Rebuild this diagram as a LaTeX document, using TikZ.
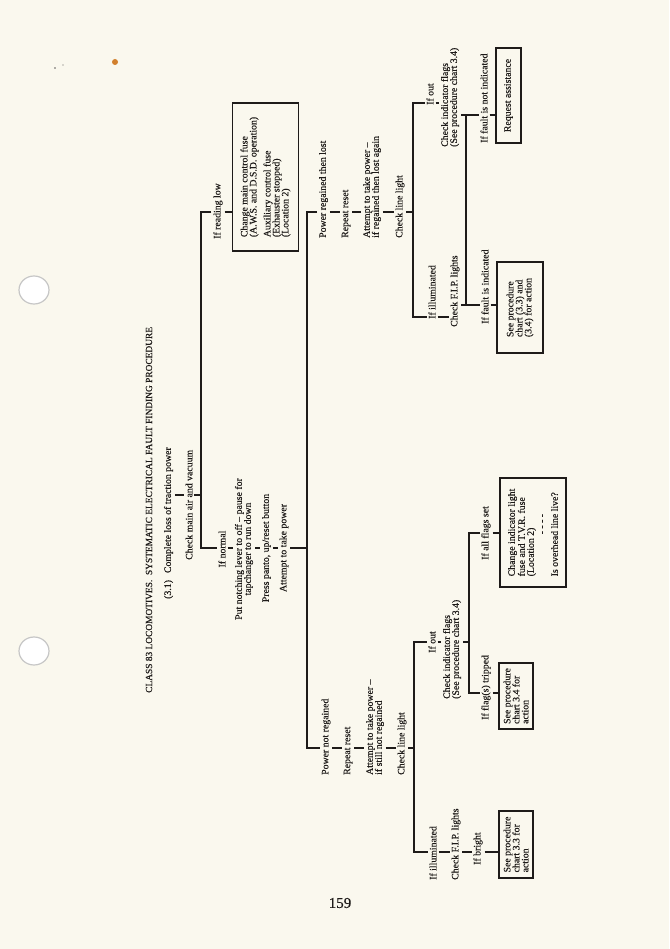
\documentclass[tikz,border=0pt]{standalone}
\usepackage{fontspec}
\setmainfont{Liberation Serif}[FakeBold=0.4]
\definecolor{paper}{RGB}{250,248,238}
\definecolor{ink}{RGB}{30,27,25}
\begin{document}
\begin{tikzpicture}[x=1pt,y=-1pt,
  txt/.style={rotate=90, font=\fontsize{9.8}{9}\selectfont, inner xsep=0pt, inner ysep=1.8pt, align=left, text=ink},
  ctr/.style={txt, align=center},
  bx/.style={txt, draw=ink, line width=1.4pt, inner sep=0pt},
  ln/.style={draw=ink, line width=1.4pt},
  tk/.style={draw=ink, line width=1.2pt}]
\useasboundingbox (0,0) rectangle (669,949);
\fill[paper] (0,0) rectangle (669,949);
% punch holes and marks
\fill[white] (34,290) ellipse (15pt and 14pt);
\draw[gray!45, line width=1.2pt] (34,290) ellipse (15pt and 14pt);
\fill[white] (34,651) ellipse (15pt and 14pt);
\draw[gray!45, line width=1.2pt] (34,651) ellipse (15pt and 14pt);
\fill[brown!70!orange] (115,62) circle (3pt);
\fill[ink!70] (55,68) circle (0.9pt);
\fill[ink!70] (63,65) circle (0.7pt);

% ---------- nodes ----------
\node[txt, anchor=west, font=\fontsize{9.4}{9}\selectfont] (title) at (149,693) {CLASS 83 LOCOMOTIVES.\ \ SYSTEMATIC ELECTRICAL FAULT FINDING PROCEDURE};
\node[txt, anchor=west] (n31) at (168.5,599) {(3.1)\hspace{7pt}Complete loss of traction power};
\node[txt, anchor=west] (air) at (189,560) {Check main air and vacuum};
\node[txt, anchor=west] (rl) at (218,239) {If reading low};
\node[bx, minimum width=148pt, minimum height=66pt] (box1) at (265.5,177)
  {Change main control fuse\\(A.W.S. and D.S.D. operation)\\[5pt]Auxiliary control fuse\\(Exhauster stopped)\\(Location 2)};
\node[ctr] (nrm) at (222,549) {If normal};
\node[ctr] (notch) at (244,549) {Put notching lever to off -- pause for\\tapchanger to run down};
\node[ctr] (press) at (266.5,548) {Press panto, up/reset button};
\node[ctr] (att1) at (284,548) {Attempt to take power};

\node[txt, anchor=west] (prl) at (323.5,238) {Power regained then lost};
\node[txt, anchor=west] (rr1) at (346,238) {Repeat reset};
\node[txt, anchor=west] (atp1) at (372,238) {Attempt to take power --\\if regained then lost again};
\node[txt, anchor=west] (cll1) at (400,238) {Check line light};
\node[txt, anchor=west] (out1) at (430,105) {If out};
\node[txt, anchor=west] (cif1) at (450,147) {Check indicator flags\\(See procedure chart 3.4)};
\node[txt, anchor=west] (fni) at (484,143) {If fault is not indicated};
\node[bx, minimum width=95pt, minimum height=25pt] (req) at (508.5,95.5) {Request assistance};
\node[txt, anchor=west] (ill1) at (432,319) {If illuminated};
\node[txt, anchor=west] (fip1) at (455,327) {Check F.I.P. lights};
\node[txt, anchor=west] (fi) at (485,324) {If fault is indicated};
\node[bx, minimum width=91pt, minimum height=46pt] (box33) at (520,307.5) {See procedure\\chart (3.3) and\\(3.4) for action};

\node[txt, anchor=west] (pnr) at (326,775) {Power not regained};
\node[txt, anchor=west] (rr2) at (348,775) {Repeat reset};
\node[txt, anchor=west] (atp2) at (375,775) {Attempt to take power --\\if still not regained};
\node[txt, anchor=west] (cll2) at (402,775) {Check line light};
\node[ctr] (out2) at (432,642) {If out};
\node[txt, anchor=west] (cif2) at (452,699) {Check indicator flags\\(See procedure chart 3.4)};
\node[txt, anchor=west] (afs) at (486,560) {If all flags set};
\node[bx, minimum width=109pt, minimum height=66pt] (boxci) at (533,532.5)
  {Change indicator light\\fuse and T.V.R. fuse\\(Location 2)\\[2pt]\hspace*{42pt}- - - -\\[4pt]Is overhead line live?};
\node[txt, anchor=west] (fst) at (486,720) {If flag(s) tripped};
\node[bx, minimum width=66pt, minimum height=34pt] (box34) at (516,696) {See procedure\\chart 3.4 for\\action};
\node[txt, anchor=west] (ill2) at (433,880) {If illuminated};
\node[txt, anchor=west] (fip2) at (456,880) {Check F.I.P. lights};
\node[txt, anchor=west] (brt) at (478,865) {If bright};
\node[bx, minimum width=67pt, minimum height=34pt] (box33b) at (516,844.5) {See procedure\\chart 3.3 for\\action};

\node[font=\fontsize{15}{15}\selectfont, text=ink] (pg) at (340,903) {159};

% ---------- coordinates ----------
\coordinate (j1) at (201,495);
\coordinate (L1t) at (201,212);
\coordinate (L1b) at (201,548);
\coordinate (L2t) at (307,212);
\coordinate (L2m) at (307,548);
\coordinate (L2b) at (307,748);
\coordinate (L3t) at (413,103);
\coordinate (L3m) at (413,212);
\coordinate (L3b) at (413,317);
\coordinate (L4t) at (466,115);
\coordinate (L4b) at (466,305);
\coordinate (L5t) at (414,642);
\coordinate (L5m) at (414,748);
\coordinate (L5b) at (414,852);
\coordinate (L6t) at (469,533);
\coordinate (L6m) at (469,642);
\coordinate (L6b) at (469,693);

% ---------- connectors ----------
\draw[tk] (n31.south |- j1) -- (air.north |- j1);
\draw[ln] (air.south |- j1) -- (j1);
\draw[ln] (rl.north |- L1t) -- (L1t) -- (L1b) -- (nrm.north |- L1b);
\draw[ln] (rl.south |- L1t) -- (box1.north |- L1t);
\draw[tk] (nrm.south |- L1b) -- (notch.north |- L1b);
\draw[tk] (notch.south |- L1b) -- (press.north |- L1b);
\draw[tk] (press.south |- L1b) -- (att1.north |- L1b);
\draw[ln] (att1.south |- L2m) -- (L2m);

\draw[ln] (prl.north |- L2t) -- (L2t) -- (L2b) -- (pnr.north |- L2b);
\draw[tk] (prl.south |- L2t) -- (rr1.north |- L2t);
\draw[tk] (rr1.south |- L2t) -- (atp1.north |- L2t);
\draw[tk] (atp1.south |- L2t) -- (cll1.north |- L2t);
\draw[ln] (cll1.south |- L3m) -- (L3m);

\draw[ln] (out1.north |- L3t) -- (L3t) -- (L3b) -- (ill1.north |- L3b);
\draw[tk] (out1.south |- L3t) -- (cif1.north |- L3t);
\draw[ln] (cif1.south |- L4t) -- (L4t) -- (fni.north |- L4t);
\draw[ln] (L4t) -- (L4b) -- (fip1.south |- L4b);
\draw[tk] (ill1.south |- L3b) -- (fip1.north |- L3b);
\draw[ln] (fni.south |- L4t) -- (req.north |- L4t);
\draw[ln] (L4b) -- (fi.north |- L4b);
\draw[ln] (fi.south |- L4b) -- (box33.north |- L4b);

\draw[tk] (pnr.south |- L2b) -- (rr2.north |- L2b);
\draw[tk] (rr2.south |- L2b) -- (atp2.north |- L2b);
\draw[tk] (atp2.south |- L2b) -- (cll2.north |- L2b);
\draw[ln] (cll2.south |- L5m) -- (L5m);

\draw[ln] (out2.north |- L5t) -- (L5t) -- (L5b) -- (ill2.north |- L5b);
\draw[tk] (out2.south |- L5t) -- (cif2.north |- L5t);
\draw[ln] (cif2.south |- L6m) -- (L6m);
\draw[ln] (afs.north |- L6t) -- (L6t) -- (L6b) -- (fst.north |- L6b);
\draw[ln] (afs.south |- L6t) -- (boxci.north |- L6t);
\draw[ln] (fst.south |- L6b) -- (box34.north |- L6b);

\draw[tk] (ill2.south |- L5b) -- (fip2.north |- L5b);
\draw[tk] (fip2.south |- L5b) -- (brt.north |- L5b);
\draw[ln] (brt.south |- L5b) -- (box33b.north |- L5b);
\end{tikzpicture}
\end{document}
